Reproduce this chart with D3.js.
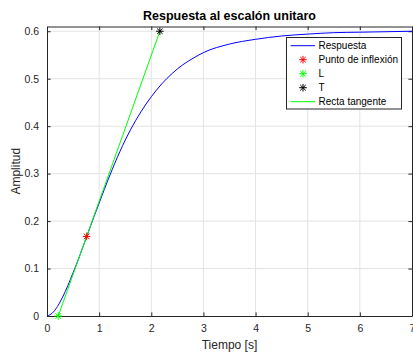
<!DOCTYPE html>
<html>
<head>
<meta charset="utf-8">
<script src="https://cdn.jsdelivr.net/npm/d3@7"></script>
<style>
  body { margin: 0; background: #fff; }
  svg { display: block; font-family: "Liberation Sans", Arial, sans-serif; }
  .tick text { fill: #262626; font-size: 10.5px; }
</style>
</head>
<body>
<script>
// values
var tiempo = [0, 0.1, 0.2, 0.3, 0.4, 0.5, 0.6, 0.76, 0.9, 1.0, 1.2, 1.4, 1.6, 1.8, 2.0,
    2.2, 2.4, 2.6, 2.8, 3.0, 3.5, 4.0, 4.5, 5.0, 5.5, 6.0, 6.5, 7.0];
var respuesta = [0, 0.006, 0.020, 0.040, 0.064, 0.091, 0.119, 0.167, 0.209, 0.238, 0.295,
    0.347, 0.392, 0.430, 0.462, 0.489, 0.511, 0.529, 0.543, 0.555, 0.573, 0.583, 0.590,
    0.594, 0.597, 0.598, 0.599, 0.600];
var inflexion = [0.76, 0.1677];
var puntoL = [0.215, 0];
var puntoT = [2.165, 0.6];
var xTicks = [0, 1, 2, 3, 4, 5, 6, 7];
var yTicks = [0, 0.1, 0.2, 0.3, 0.4, 0.5, 0.6];
var legendLabels = ["Respuesta", "Punto de inflexión", "L", "T", "Recta tangente"];

var width = 413, height = 352;
var mLeft = 47, mRight = 412, mTop = 26.5, mBottom = 316;

var svg = d3.select("body").append("svg")
    .attr("width", width)
    .attr("height", height);

var x = d3.scaleLinear().domain([0, 7]).range([mLeft, mRight]);
var y = d3.scaleLinear().domain([0, 0.61]).range([mBottom, mTop]);

// grid
svg.append("g")
    .selectAll("line")
    .data(xTicks.slice(1, -1))
    .enter().append("line")
    .attr("x1", function (d) { return x(d); })
    .attr("x2", function (d) { return x(d); })
    .attr("y1", mTop).attr("y2", mBottom)
    .attr("stroke", "#e3e3e3");

svg.append("g")
    .selectAll("line")
    .data(yTicks.slice(1))
    .enter().append("line")
    .attr("y1", function (d) { return y(d); })
    .attr("y2", function (d) { return y(d); })
    .attr("x1", mLeft).attr("x2", mRight)
    .attr("stroke", "#e3e3e3");

// axes (ticks inside, box on)
var xAxis = d3.axisBottom(x).tickValues(xTicks).tickSizeInner(-3.6).tickSizeOuter(0).tickPadding(8)
    .tickFormat(d3.format("d"));
var yAxis = d3.axisLeft(y).tickValues(yTicks).tickSizeInner(-3.6).tickSizeOuter(0).tickPadding(8)
    .tickFormat(function (d) { return d === 0 ? "0" : d3.format(".1f")(d); });

var gx = svg.append("g").attr("transform", "translate(0," + mBottom + ")").call(xAxis);
var gy = svg.append("g").attr("transform", "translate(" + mLeft + ",0)").call(yAxis);
var gxTop = svg.append("g").attr("transform", "translate(0," + mTop + ")")
    .call(d3.axisTop(x).tickValues(xTicks).tickSizeInner(-3.6).tickSizeOuter(0).tickFormat(""));
var gyRight = svg.append("g").attr("transform", "translate(" + mRight + ",0)")
    .call(d3.axisRight(y).tickValues(yTicks).tickSizeInner(-3.6).tickSizeOuter(0).tickFormat(""));

[gx, gy, gxTop, gyRight].forEach(function (g) {
    g.select(".domain").attr("stroke", "#262626");
    g.selectAll(".tick line").attr("stroke", "#262626");
});
gx.selectAll(".tick text").attr("dy", "0.8em");

// clip to the axes
svg.append("clipPath").attr("id", "plotclip")
    .append("rect")
    .attr("x", mLeft).attr("y", mTop - 6)
    .attr("width", mRight - mLeft).attr("height", mBottom - mTop + 12);

var plot = svg.append("g").attr("clip-path", "url(#plotclip)");

var line = d3.line()
    .x(function (d, i) { return x(tiempo[i]); })
    .y(function (d) { return y(d); })
    .curve(d3.curveMonotoneX);

plot.append("path")
    .datum(respuesta)
    .attr("d", line)
    .attr("fill", "none")
    .attr("stroke", "#0000ff")
    .attr("stroke-width", 1);

plot.append("line")
    .attr("x1", x(puntoL[0])).attr("y1", y(puntoL[1]))
    .attr("x2", x(puntoT[0])).attr("y2", y(puntoT[1]))
    .attr("stroke", "#00ff00")
    .attr("stroke-width", 1);

function asterisk(r) {
    var k = r * 0.72;
    return "M0," + (-r) + "V" + r + "M" + (-r) + ",0H" + r +
        "M" + (-k) + "," + (-k) + "L" + k + "," + k +
        "M" + (-k) + "," + k + "L" + k + "," + (-k);
}

var markers = [
    { p: inflexion, c: "#ff0000" },
    { p: puntoL, c: "#00ff00" },
    { p: puntoT, c: "#000000" }
];

svg.selectAll("path.mk")
    .data(markers)
    .enter().append("path")
    .attr("class", "mk")
    .attr("d", asterisk(3.8))
    .attr("transform", function (d) {
        return "translate(" + x(d.p[0]) + "," + y(d.p[1]) + ")";
    })
    .attr("fill", "none")
    .attr("stroke", function (d) { return d.c; })
    .attr("stroke-width", 1);

// legend
var lg = svg.append("g");
lg.append("rect")
    .attr("x", 286.5).attr("y", 37.5)
    .attr("width", 115).attr("height", 71.5)
    .attr("fill", "#fff")
    .attr("stroke", "#262626")
    .attr("stroke-width", 1);

var rows = lg.selectAll("g.row")
    .data(legendLabels)
    .enter().append("g")
    .attr("class", "row")
    .attr("transform", function (d, i) { return "translate(0," + (45.7 + 14 * i) + ")"; });

rows.append("text")
    .attr("x", 318.5)
    .attr("dy", "0.35em")
    .attr("font-size", "10px")
    .attr("fill", "#000")
    .text(function (d) { return d; });

var legendColors = ["#0000ff", "#ff0000", "#00ff00", "#000000", "#00ff00"];
rows.each(function (d, i) {
    var g = d3.select(this);
    if (i === 0 || i === 4) {
        g.append("line")
            .attr("x1", 290.5).attr("x2", 315)
            .attr("stroke", legendColors[i]);
    } else {
        g.append("path")
            .attr("d", asterisk(3.8))
            .attr("transform", "translate(303,0)")
            .attr("fill", "none")
            .attr("stroke", legendColors[i]);
    }
});

// titles
svg.append("text")
    .attr("x", (mLeft + mRight) / 2).attr("y", 19.5)
    .attr("text-anchor", "middle")
    .attr("font-size", "12.5px")
    .attr("font-weight", "bold")
    .attr("fill", "#000")
    .text("Respuesta al escalón unitaro");

svg.append("text")
    .attr("x", (mLeft + mRight) / 2).attr("y", 349)
    .attr("text-anchor", "middle")
    .attr("font-size", "12px")
    .attr("fill", "#262626")
    .text("Tiempo [s]");

svg.append("text")
    .attr("transform", "translate(20," + ((mTop + mBottom) / 2) + ") rotate(-90)")
    .attr("text-anchor", "middle")
    .attr("font-size", "12px")
    .attr("fill", "#262626")
    .text("Amplitud");
</script>
</body>
</html>
